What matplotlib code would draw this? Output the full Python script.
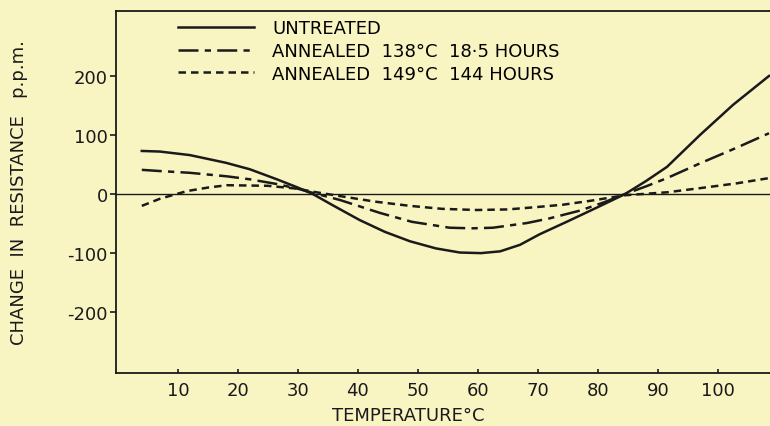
import matplotlib
matplotlib.use('Agg')
import matplotlib.pyplot as plt

# Dados
temp_untreated = [4, 7, 12, 18, 22, 26.5, 30, 32.5, 36, 40.3, 44.5, 48.7, 53, 57, 60.5, 63.7, 67, 70.3, 75, 80, 84.5, 88, 91.5, 97, 102.5, 108.5]
untreated = [73, 72, 66, 53, 42, 25, 11, 0, -20, -44, -64, -80, -92, -99, -100, -97, -86, -68, -46, -22, 0, 22, 46, 100, 151, 200]

temp_138 = [4, 7, 12, 18.2, 22, 26.5, 30, 32.5, 37, 43.7, 49, 55.3, 59, 62.5, 68.2, 72, 77, 81, 84.5, 88, 91.5, 97, 103, 108.5]
annealed_138 = [41, 39, 36, 30, 25, 17, 9, 2, -10, -32, -47, -57, -58, -57, -49, -41, -28, -14, 0, 13, 27, 52, 78, 103]

temp_149 = [4, 7, 11.5, 15, 18.2, 25, 30, 32.5, 38, 43, 48.7, 54, 59.8, 65, 69.8, 74.2, 79, 84.5, 91.5, 97, 103, 108.5]
annealed_149 = [-20, -8, 5, 11, 15, 14, 9, 4, -5, -13, -20, -25, -27, -26, -22, -18, -11, -2, 3, 10, 18, 27]

labels = ['UNTREATED', 'ANNEALED  138°C  18·5 HOURS', 'ANNEALED  149°C  144 HOURS']

xticks = [10, 20, 30, 40, 50, 60, 70, 80, 90, 100]
yticks = [-200, -100, 0, 100, 200]
ytick_labels = ['-200', '-100', '0', '100', '200']

fundo = '#f9f5c3'
tinta = '#1a1a1a'

plt.rcParams['font.family'] = ['DejaVu Sans']
plt.rcParams['axes.unicode_minus'] = False

fig = plt.figure(figsize=(7.7, 4.27), dpi=100, facecolor=fundo)
ax = fig.add_axes([116 / 770, 53 / 427, 662 / 770, 362 / 427], facecolor=fundo)

ax.axhline(0, color=tinta, linewidth=1)
ax.plot(temp_untreated, untreated, color=tinta, linewidth=1.8, label=labels[0])
ax.plot(temp_138, annealed_138, color=tinta, linewidth=1.8, dashes=(8, 2.5, 2.5, 2.5), label=labels[1])
ax.plot(temp_149, annealed_149, color=tinta, linewidth=1.8, dashes=(3, 2), label=labels[2])

ax.set_xlim(-0.3, 110)
ax.set_ylim(-303, 310)
ax.set_xticks(xticks)
ax.set_yticks(yticks)
ax.set_yticklabels(ytick_labels)

ax.spines['right'].set_visible(False)
for s in ['top', 'left', 'bottom']:
    ax.spines[s].set_linewidth(1.3)
    ax.spines[s].set_color(tinta)

ax.tick_params(axis='y', direction='out', length=4, width=1.2, labelsize=13, colors=tinta, pad=2)
ax.tick_params(axis='x', direction='in', length=3, width=1.2, labelsize=13, colors=tinta, pad=6)

ax.set_ylabel('CHANGE  IN  RESISTANCE   p.p.m.', fontsize=13, color=tinta)
ax.yaxis.set_label_coords(-0.133, 0.5)
ax.set_xlabel('TEMPERATURE°C', fontsize=13, color=tinta)
ax.xaxis.set_label_coords(0.441, -0.09)

ax.legend(loc='upper left', bbox_to_anchor=(0.094, 0.977), frameon=False, fontsize=13,
          handlelength=4.2, handletextpad=1.0, labelspacing=0.26, borderpad=0, borderaxespad=0)

plt.savefig('out.png', dpi=100, facecolor=fundo)
